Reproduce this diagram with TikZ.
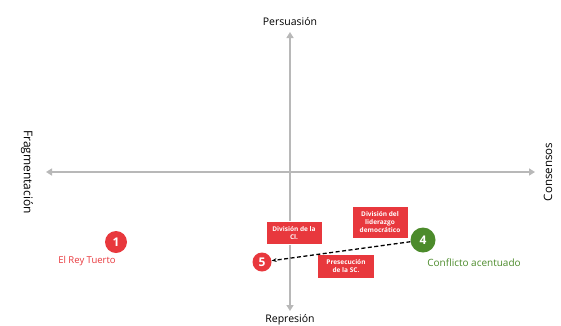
\documentclass[tikz,border=0pt]{standalone}
\usepackage{fontspec}
\setmainfont{Open Sans}
\usetikzlibrary{positioning, arrows, arrows.meta}
\definecolor{redmark}{HTML}{E8383D}
\definecolor{greenmark}{HTML}{4C8B2B}
\definecolor{axisgray}{HTML}{B8B8B8}

\begin{document}
\begin{tikzpicture}[x=1pt, y=-1pt, font=\fontsize{10.5}{12}\selectfont]
        % Setup the styles
        \tikzset{axis style/.style={draw=axisgray, line width=1.6pt, -{Triangle[length=6pt, width=7pt]}},
                 mark style/.style={circle, minimum size=22pt, inner sep=0pt,
                                    text=white, font=\fontsize{12}{12}\selectfont\bfseries},
                 box style/.style={fill=redmark, draw=white, line width=0.3pt, text=white,
                                   align=center, inner sep=1.5pt,
                                   font=\fontsize{6.5}{8}\selectfont\bfseries}}

        \useasboundingbox (0, 0) rectangle (561, 325);

        % Draw the axes
        \coordinate (center) at (290, 172);
        \node at (290, 22)  (top)    {Persuasión};
        \node at (290, 320) (bottom) {Represión};
        \node[rotate=-90, font=\fontsize{12}{12}\selectfont] at (27, 172)  (left)  {Fragmentación};
        \node[rotate=90, font=\fontsize{11.5}{12}\selectfont]  at (548, 172) (right) {Consensos};
        \draw[axis style] (center) -- (290, 32);
        \draw[axis style] (center) -- (290, 311);
        \draw[axis style] (center) -- (46, 172);
        \draw[axis style] (center) -- (535, 172);

        % Draw the marks
        \node[mark style, fill=redmark]   at (116, 242) (1) {1};
        \node[mark style, fill=greenmark, minimum size=25pt] at (423, 240) (4) {4};
        \node[mark style, fill=redmark, minimum size=19pt]   at (262, 262) (5) {5};
        \node[text=redmark, font=\fontsize{9.5}{11}\selectfont]  at (87, 261)  (rey)       {El Rey Tuerto};
        \node[text=greenmark, font=\fontsize{10}{11}\selectfont] at (474, 263) (conflicto) {Conflicto acentuado};

        % Draw the boxes
        \node[box style, minimum width=56pt, minimum height=23pt] at (294, 233) (ci)        {División de la\\Cl.};
        \node[box style, minimum width=56pt, minimum height=32pt] at (380, 222) (liderazgo) {División del\\liderazgo\\democrático};
        \node[box style, minimum width=57pt, minimum height=24pt] at (346, 266) (sc)        {Presecución\\de la SC.};

        % Connect the marks
        \draw[dashed, line width=1.3pt, dash pattern=on 4pt off 2.5pt, -{Stealth[length=5pt]}] (4) -- (5);
\end{tikzpicture}
\end{document}
